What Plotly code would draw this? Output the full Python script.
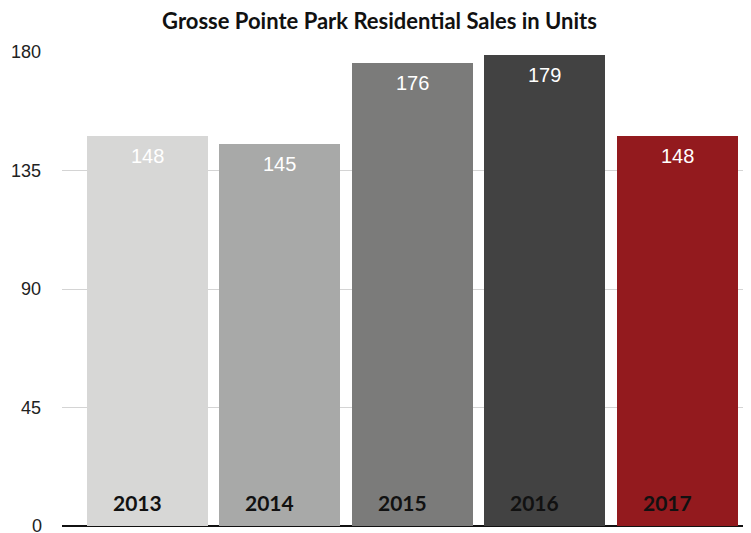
import plotly.graph_objects as go

years = ["2013", "2014", "2015", "2016", "2017"]
units = [148, 145, 176, 179, 148]
bar_colors = ["#d7d7d6", "#a8a9a8", "#7b7b7a", "#424242", "#931a1e"]
y_ticks = [0, 45, 90, 135, 180]

xpos = list(range(len(years)))

# page body has an 8px default margin, so the figure is 8px smaller
W, H = 743, 525
tick_font = dict(family="Liberation Sans, Arial", size=18, color="#222222")

fig = go.Figure()
fig.add_trace(go.Bar(x=xpos, y=units, width=0.913,
                     marker=dict(color=bar_colors, line=dict(width=0)),
                     hoverinfo="skip"))

# value labels near the top of each bar, year labels near the bottom
for i, (yr, v) in enumerate(zip(years, units)):
    fig.add_annotation(x=i, y=v, text=str(v), showarrow=False,
                       yanchor="top", yshift=-7,
                       font=dict(family="Liberation Sans, Arial", size=20, color="white"))
    fig.add_annotation(x=i, y=0, text="<b>%s</b>" % yr, showarrow=False,
                       yanchor="middle", yshift=24, xshift=-10,
                       font=dict(family="Lato", size=21, color="#111111"))

# the "0" tick sits half off the bottom edge, plotly drops it, so draw it here
fig.add_annotation(xref="paper", x=0, y=y_ticks[0], text=str(y_ticks[0]),
                   showarrow=False, xanchor="right", yanchor="middle",
                   xshift=-18, font=tick_font)

fig.update_layout(
    title=dict(text="<b>Grosse Pointe Park Residential Sales in Units</b>",
               x=0.5, xanchor="center", y=1 - 13 / H, yanchor="middle",
               font=dict(family="Lato", size=22, color="#111111")),
    width=W, height=H,
    margin=dict(l=54, r=0, t=44, b=7),
    plot_bgcolor="white", paper_bgcolor="white",
    showlegend=False, bargap=0,
)
fig.update_xaxes(range=[-0.6415, 4.5547], showticklabels=False, showgrid=False,
                 zeroline=False, showline=False)
fig.update_yaxes(range=[0, 180], tickvals=y_ticks[1:], showgrid=True,
                 gridcolor="#d4d4d4", gridwidth=1, zeroline=True,
                 zerolinecolor="#111111", zerolinewidth=2,
                 ticklabelstandoff=20, automargin=False,
                 tickfont=tick_font)

fig.write_html("out.html")
